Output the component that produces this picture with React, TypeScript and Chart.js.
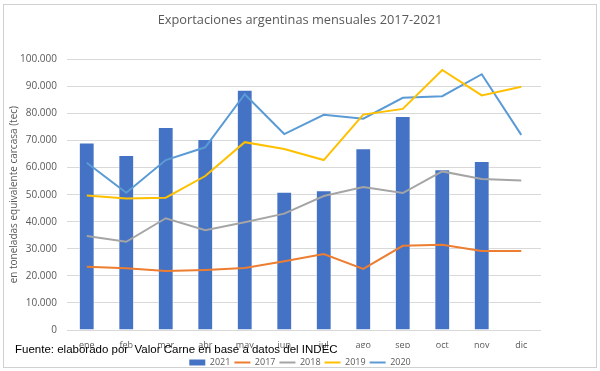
import React, { useEffect, useRef } from "react";
import { Chart, registerables } from "chart.js";

Chart.register(...registerables);

const months = ["ene", "feb", "mar", "abr", "may", "jun", "jul", "ago", "sep", "oct", "nov", "dic"];
const v2021 = [69300, 64700, 75000, 70600, 88800, 51100, 51600, 67200, 79100, 59400, 62400, null];
const v2017 = [23400, 22800, 21800, 22200, 22900, 25400, 28100, 22600, 31100, 31500, 29200, 29200];
const v2018 = [34700, 32600, 41300, 36900, 39800, 43000, 49500, 52800, 50600, 58600, 55800, 55200];
const v2019 = [49700, 48600, 48900, 56900, 69400, 66900, 62800, 79600, 81700, 96100, 86700, 89900];
const v2020 = [61800, 50700, 62800, 67500, 87100, 72400, 79500, 78100, 85800, 86400, 94500, 72100];

const titleText = "Exportaciones argentinas mensuales 2017-2021";
const yTitle = "en toneladas equivalente carcasa (tec)";
const footer = "Fuente: elaborado por  Valor Carne en base a datos del INDEC";

const FONT = "'Open Sans', sans-serif";
const GREY = "#595959";

function fmt(v: number): string {
  return Math.round(v).toString().replace(/\B(?=(\d{3})+(?!\d))/g, ".");
}

export default function App() {
  const ref = useRef<HTMLCanvasElement>(null);

  useEffect(() => {
    const legendShift = {
      id: "legendShift",
      afterLayout(chart: any) {
        const l = chart.legend;
        if (l) {
          l.top += 6;
          l.bottom += 6;
        }
      },
    };
    const lineDs = (label: string, data: number[], color: string) => ({
      type: "line" as const,
      label,
      data,
      borderColor: color,
      backgroundColor: color,
      borderWidth: 2,
      pointRadius: 0,
      tension: 0,
      fill: false,
      order: 0,
    });
    const chart = new Chart(ref.current!, {
      type: "bar",
      data: {
        labels: months,
        datasets: [
          {
            type: "bar",
            label: "2021",
            data: v2021 as any,
            backgroundColor: "#4472C4",
            borderColor: "rgba(255,255,255,0.55)",
            borderWidth: 1,
            barPercentage: 0.4,
            categoryPercentage: 1.0,
            order: 1,
          },
          lineDs("2017", v2017, "#ED7D31"),
          lineDs("2018", v2018, "#A5A5A5"),
          lineDs("2019", v2019, "#FFC000"),
          lineDs("2020", v2020, "#5B9BD5"),
        ] as any,
      },
      options: {
        responsive: false,
        animation: false,
        layout: { padding: 0 },
        plugins: {
          tooltip: { enabled: false },
          title: {
            display: true,
            text: titleText,
            color: GREY,
            font: { family: FONT, size: 12.8, weight: "normal" },
            padding: { top: 13, bottom: 31 },
          },
          legend: {
            position: "bottom",
            labels: {
              color: GREY,
              font: { family: FONT, size: 9 },
              usePointStyle: true,
              pointStyleWidth: 16,
              boxWidth: 16,
              boxHeight: 6,
              padding: 4,
              sort: (a: any, b: any) => a.datasetIndex - b.datasetIndex,
              generateLabels: (c: any) => {
                const items = (Chart.defaults.plugins.legend.labels as any).generateLabels(c);
                return items.map((it: any) => {
                  const ds: any = c.data.datasets[it.datasetIndex];
                  const isBar = ds.type !== "line";
                  return {
                    ...it,
                    pointStyle: isBar ? "rect" : "line",
                    lineWidth: isBar ? 0 : 2,
                    strokeStyle: ds.borderColor,
                    fillStyle: isBar ? ds.backgroundColor : ds.borderColor,
                  };
                });
              },
            },
          },
        },
        scales: {
          x: {
            grid: { display: false },
            border: { display: false },
            ticks: { color: GREY, font: { family: FONT, size: 9 }, padding: 2 },
            afterFit: (s: any) => {
              s.height = 18;
            },
          },
          y: {
            min: 0,
            max: 100000,
            ticks: {
              stepSize: 10000,
              color: GREY,
              font: { family: FONT, size: 10 },
              padding: 10,
              callback: (v: any) => fmt(Number(v)),
            },
            grid: { color: "#D9D9D9", drawTicks: false, lineWidth: 1 },
            border: { display: false },
            title: {
              display: true,
              text: yTitle,
              color: GREY,
              font: { family: FONT, size: 10 },
              padding: { top: 8, bottom: 0 },
            },
            afterFit: (s: any) => {
              s.width = 67;
            },
          },
          yRight: {
            position: "right",
            display: true,
            min: 0,
            max: 100000,
            ticks: { display: false },
            grid: { display: false },
            border: { display: false },
            afterFit: (s: any) => {
              s.width = 59;
            },
          },
        },
      },
      plugins: [legendShift],
    });
    return () => chart.destroy();
  }, []);

  return (
    <div style={{ position: "absolute", left: 0, top: 0, width: 600, height: 371, background: "#fff", overflow: "hidden" }}>
      <div
        style={{
          position: "absolute",
          left: 3,
          top: 4,
          width: 592,
          height: 362,
          border: "1px solid #D0D0D0",
        }}
      />
      <canvas ref={ref} width={600} height={371} style={{ position: "absolute", left: 0, top: 0 }} />
      <div
        style={{
          position: "absolute",
          left: 15,
          top: 342,
          fontFamily: "'Liberation Sans', Arial, sans-serif",
          fontSize: 11.5,
          color: "#000",
          whiteSpace: "pre",
          lineHeight: "14px",
        }}
      >
        {footer}
      </div>
    </div>
  );
}
